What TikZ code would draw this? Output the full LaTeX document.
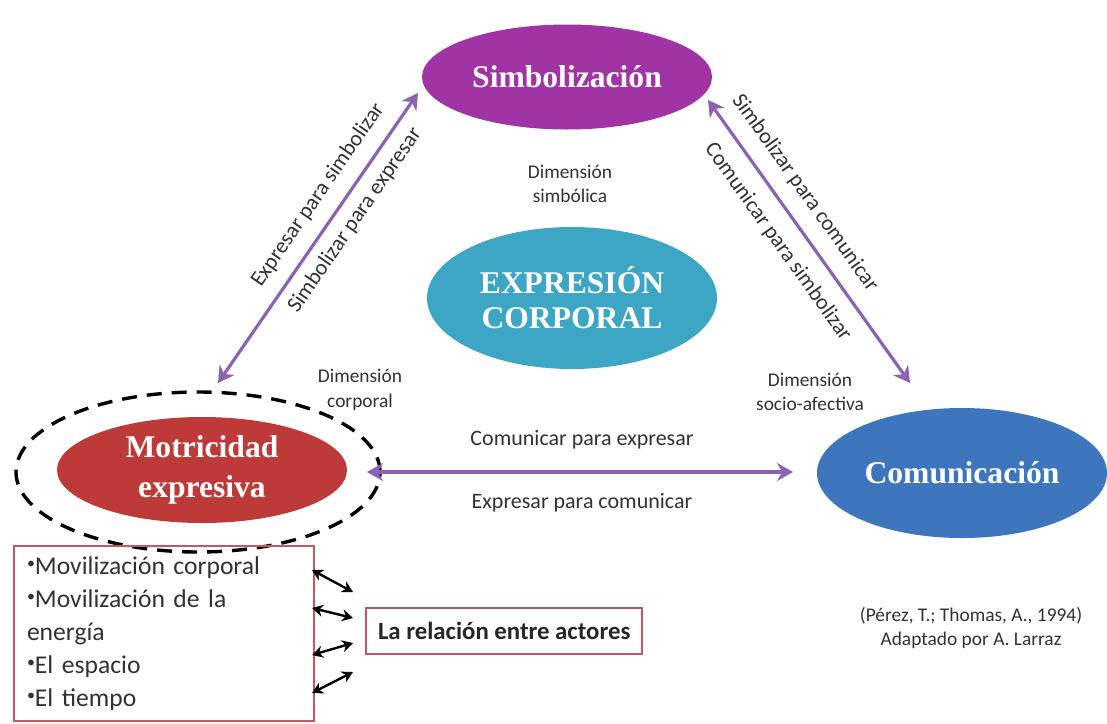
\documentclass[tikz,border=0pt]{standalone}
\usepackage{fontspec}
\setmainfont{Liberation Serif}
\newfontfamily\calib{Carlito}
\usetikzlibrary{shapes.geometric,arrows.meta}
\definecolor{simbc}{RGB}{160,52,164}
\definecolor{exprc}{RGB}{60,166,196}
\definecolor{motrc}{RGB}{190,58,56}
\definecolor{comuc}{RGB}{62,118,190}
\definecolor{arrc}{RGB}{138,100,178}
\definecolor{boxc}{RGB}{196,88,96}
\definecolor{txtc}{RGB}{50,50,50}
\newcommand{\smbul}{\raisebox{0.22em}{\fontsize{8}{8}\selectfont•}}
\begin{document}
\begin{tikzpicture}[x=0.5pt,y=-0.5pt,
  ell/.style={ellipse, draw=none, inner sep=0pt, text=white, align=center,
    font=\bfseries\fontsize{15.8}{19}\selectfont},
  lab/.style={font=\calib\fontsize{11}{13}\selectfont, text=txtc, inner sep=0pt},
  dim/.style={font=\calib\fontsize{9.7}{12.3}\selectfont, text=txtc, align=center, inner sep=0pt},
  parr/.style={draw=arrc, line width=1.6pt, {Stealth[length=8pt,width=9pt]}-{Stealth[length=8pt,width=9pt]}},
  barr/.style={draw=black, line width=1.2pt, {Stealth[length=5.5pt,width=6pt]}-{Stealth[length=5.5pt,width=6pt]}},
  rbox/.style={draw=boxc, line width=1pt}]
\useasboundingbox (0,0) rectangle (1107,723);
\fill[white] (0,0) rectangle (1107,723);

% ellipses
\node[ell, fill=simbc, minimum width=145pt, minimum height=52.5pt] (simb) at (567,77) {Simbolización};
\node[ell, fill=exprc, minimum width=145pt, minimum height=71pt, font=\bfseries\fontsize{15.8}{17.5}\selectfont] (expr) at (572,298) {EXPRESIÓN\\CORPORAL};
\node[draw=black, dash pattern=on 7.5pt off 5pt, line width=1.7pt, ellipse, minimum width=182pt, minimum height=80pt, inner sep=0pt] (dash) at (198,472) {};
\node[ell, fill=motrc, minimum width=145pt, minimum height=53pt, font=\bfseries\fontsize{15.8}{20}\selectfont] (motr) at (202,470) {Motricidad\\expresiva};
\node[ell, fill=comuc, minimum width=145pt, minimum height=65pt] (comu) at (962,473) {Comunicación};

% arrow ends
\coordinate (a1) at (418,93);
\coordinate (a2) at (218,383);
\coordinate (b1) at (708,100);
\coordinate (b2) at (910,383);
\coordinate (c1) at (367,472);
\coordinate (c2) at (793,472);
\draw[parr] (a1) -- (a2);
\draw[parr] (b1) -- (b2);
\draw[parr] (c1) -- (c2);

% diagonal labels
\node[lab, rotate=55.4] (l1) at (318,195) {Expresar para simbolizar};
\node[lab, rotate=55.4] (l2) at (355,220) {Simbolizar para expresar};
\node[lab, rotate=-54.5] (l3) at (805,193) {Simbolizar para comunicar};
\node[lab, rotate=-54.5] (l4) at (778,242) {Comunicar para simbolizar};
\node[lab] (l5) at (582,440) {Comunicar para expresar};
\node[lab] (l6) at (582,503) {Expresar para comunicar};

% dimension labels
\node[dim] (d1) at (570,184) {Dimensión\\simbólica};
\node[dim] (d2) at (360,390) {Dimensión\\corporal};
\node[dim] (d3) at (810,392) {Dimensión\\socio-afectiva};

% bottom boxes
\node[rbox, anchor=north west, minimum width=149.5pt, minimum height=87.5pt, text width=137pt, align=left, inner xsep=6.5pt, inner ysep=0pt, font=\calib\fontsize{12.8}{16.5}\selectfont, text=txtc] (list) at (13,545)
  {\smbul Movilización corporal\\\smbul Movilización de la\\energía\\\smbul El espacio\\\smbul El tiempo};
\node[rbox, anchor=north west, minimum height=23pt, inner xsep=6pt, font=\calib\bfseries\fontsize{12.4}{14}\selectfont, text=black!85] (rel) at (365,607) {La relación entre actores};

\coordinate (p1) at (312,570); \coordinate (q1) at (353,592);
\coordinate (p2) at (312,608); \coordinate (q2) at (353,618);
\coordinate (p3) at (312,655); \coordinate (q3) at (353,643);
\coordinate (p4) at (312,693); \coordinate (q4) at (353,672);
\draw[barr] (p1) -- (q1);
\draw[barr] (p2) -- (q2);
\draw[barr] (p3) -- (q3);
\draw[barr] (p4) -- (q4);

% citation
\node[dim] (cit) at (971,628) {(Pérez, T.; Thomas, A., 1994)\\Adaptado por A. Larraz};
\end{tikzpicture}
\end{document}
